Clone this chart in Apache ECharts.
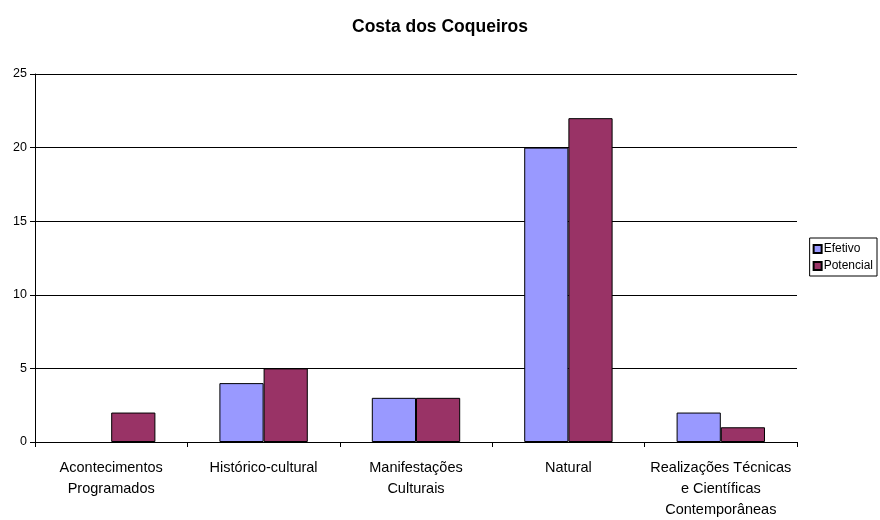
<!DOCTYPE html>
<html>
<head>
<meta charset="utf-8">
<script src="https://cdn.jsdelivr.net/npm/echarts@6/dist/echarts.min.js"></script>
<style>
  html, body { margin: 0; padding: 0; background: #fff; }
  #chart { width: 880px; height: 520px; }
</style>
</head>
<body>
<div id="chart"></div>
<script>
// dados
var categorias = [
  'Acontecimentos\nProgramados',
  'Histórico-cultural',
  'Manifestações\nCulturais',
  'Natural',
  'Realizações Técnicas\ne Científicas\nContemporâneas'
];
var efetivo = [0, 4, 3, 20, 2];
var potencial = [2, 5, 3, 22, 1];

// barra com valor zero não desenha contorno
function semContornoNoZero(lista) {
  return lista.map(function (v) {
    return v === 0 ? { value: 0, itemStyle: { borderWidth: 0 } } : v;
  });
}

var chart = echarts.init(document.getElementById('chart'));
var option = {
  animation: false,
  title: {
    text: 'Costa dos Coqueiros',
    left: 'center',
    top: 13,
    textStyle: { fontFamily: 'Liberation Sans', fontSize: 17.5, fontWeight: 'bold', color: '#000' }
  },
  legend: {
    orient: 'vertical',
    right: 3,
    top: 238,
    itemWidth: 8,
    itemHeight: 8,
    itemGap: 5,
    padding: [5, 4, 4, 3],
    borderColor: '#000',
    borderWidth: 1,
    borderRadius: 0,
    icon: 'rect',
    textStyle: { fontFamily: 'Liberation Sans', fontSize: 12, color: '#000', padding: [0, 0, 0, -3] },
    data: ['Efetivo', 'Potencial']
  },
  grid: { left: 35, right: 83, top: 74, bottom: 77 },
  xAxis: {
    type: 'category',
    data: categorias,
    axisLine: { lineStyle: { color: '#000', width: 1 } },
    axisTick: { show: true, length: 5, lineStyle: { color: '#000' } },
    axisLabel: {
      fontFamily: 'Liberation Sans', fontSize: 14.5, color: '#000',
      margin: 15, lineHeight: 21, interval: 0
    }
  },
  yAxis: {
    type: 'value',
    min: 0,
    max: 25,
    interval: 5,
    axisLine: { show: true, lineStyle: { color: '#000' } },
    axisTick: { show: true, length: 5, lineStyle: { color: '#000' } },
    axisLabel: { fontFamily: 'Liberation Sans', fontSize: 12.5, color: '#000', margin: 8 },
    splitLine: { lineStyle: { color: '#000', width: 1 } }
  },
  series: [
    {
      name: 'Efetivo',
      type: 'bar',
      data: semContornoNoZero(efetivo),
      barGap: '0%',
      barCategoryGap: '42%',
      itemStyle: { color: '#9999FF', borderColor: '#000', borderWidth: 1 }
    },
    {
      name: 'Potencial',
      type: 'bar',
      data: semContornoNoZero(potencial),
      itemStyle: { color: '#993366', borderColor: '#000', borderWidth: 1 }
    }
  ]
};
chart.setOption(option);
</script>
</body>
</html>
